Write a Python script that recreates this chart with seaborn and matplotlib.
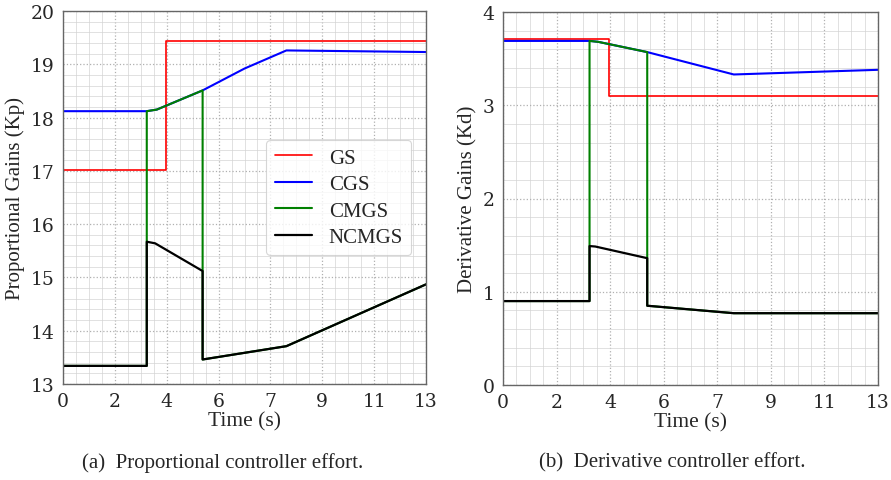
#!/usr/bin/env python
"""Gain-scheduling controller effort: proportional and derivative gains over time."""

import matplotlib

matplotlib.use("Agg")
import matplotlib.pyplot as plt  # noqa: E402
import numpy as np  # noqa: E402
import seaborn as sns  # noqa: E402
from matplotlib.ticker import AutoMinorLocator, FixedLocator, FuncFormatter, MultipleLocator  # noqa: E402

# --- proportional gains (Kp) ---
GS_T = [0, 3.68, 3.68, 13]
GS_KP = [17.02, 17.02, 19.43, 19.43]
CGS_T = [0, 3.0, 3.36, 5.0, 6.5, 8.0, 13]
CGS_KP = [18.12, 18.12, 18.15, 18.51, 18.92, 19.26, 19.23]
CMGS_T = [0, 3.0, 3.0, 3.36, 5.0, 5.0, 8.0, 13]
CMGS_KP = [13.34, 13.34, 18.12, 18.15, 18.51, 13.46, 13.71, 14.87]
NCMGS_T = [0, 3.0, 3.0, 3.3, 5.0, 5.0, 8.0, 13]
NCMGS_KP = [13.34, 13.34, 15.67, 15.64, 15.12, 13.46, 13.71, 14.87]

# --- derivative gains (Kd) ---
GS_KD = [3.71, 3.71, 3.10, 3.10]
CGS_KD_T = [0, 3.0, 3.3, 5.0, 8.0, 13]
CGS_KD = [3.69, 3.69, 3.68, 3.57, 3.33, 3.38]
CMGS_KD_T = [0, 3.0, 3.0, 3.3, 5.0, 5.0, 8.0, 13]
CMGS_KD = [0.90, 0.90, 3.69, 3.68, 3.57, 0.85, 0.77, 0.77]
NCMGS_KD_T = [0, 3.0, 3.0, 3.2, 5.0, 5.0, 8.0, 13]
NCMGS_KD = [0.90, 0.90, 1.49, 1.485, 1.36, 0.85, 0.77, 0.77]

LABELS = ["GS", "CGS", "CMGS", "NCMGS"]
COLORS = ["red", "blue", "green", "black"]
X_TICKS = np.linspace(0, 13, 8)

SERIF = ["Liberation Serif", "DejaVu Serif"]
TICK_FONT = "DejaVu Serif"


def style_axis(ax, ylim, ylabel):
    ax.set_xlim(0, 13)
    ax.set_ylim(*ylim)
    ax.xaxis.set_major_locator(FixedLocator(X_TICKS))
    ax.xaxis.set_major_formatter(FuncFormatter(lambda v, _: f"{v:.0f}"))
    ax.xaxis.set_minor_locator(AutoMinorLocator(4))
    ax.yaxis.set_major_locator(MultipleLocator(1))
    ax.yaxis.set_major_formatter(FuncFormatter(lambda v, _: f"{v:.0f}"))
    ax.yaxis.set_minor_locator(AutoMinorLocator(5))
    ax.grid(which="major", color="#b0b0b0", linestyle=":", linewidth=0.9)
    ax.grid(which="minor", color="#d4d4d4", linestyle="-", linewidth=0.5)
    ax.tick_params(which="major", direction="out", length=4, labelsize=13.5,
                   color="#555555", labelfontfamily=TICK_FONT, pad=2)
    ax.tick_params(which="minor", direction="out", length=2, color="#555555")
    for spine in ax.spines.values():
        spine.set_visible(True)
        spine.set_color("#666666")
        spine.set_linewidth(1.0)
    ax.set_xlabel("Time (s)", fontsize=15.5, family=SERIF, labelpad=1)
    ax.set_ylabel(ylabel, fontsize=15, family=SERIF, labelpad=4)


def main():
    sns.set_theme(style="white", context="paper")
    plt.rcParams["font.family"] = SERIF

    fig = plt.figure(figsize=(8.91, 4.81), dpi=100)
    ax_p = fig.add_axes([63 / 891, 1 - 385 / 481, 363 / 891, 373 / 481])
    ax_d = fig.add_axes([503 / 891, 1 - 386 / 481, 375 / 891, 373 / 481])

    kp_series = [
        (GS_T, GS_KP, 1.2),
        (CGS_T, CGS_KP, 1.5),
        (CMGS_T, CMGS_KP, 1.5),
        (NCMGS_T, NCMGS_KP, 1.6),
    ]
    kd_series = [
        (GS_T, GS_KD, 1.2),
        (CGS_KD_T, CGS_KD, 1.5),
        (CMGS_KD_T, CMGS_KD, 1.5),
        (NCMGS_KD_T, NCMGS_KD, 1.6),
    ]
    for ax, series in [(ax_p, kp_series), (ax_d, kd_series)]:
        for (t, vals, lw), label, color in zip(series, LABELS, COLORS):
            sns.lineplot(
                x=t, y=vals, ax=ax, color=color, linewidth=lw,
                estimator=None, sort=False, label=label if ax is ax_p else None,
            )

    style_axis(ax_p, (13, 20), "Proportional Gains (Kp)")
    style_axis(ax_d, (0, 4), "Derivative Gains (Kd)")

    if ax_d.get_legend() is not None:
        ax_d.get_legend().remove()
    ax_p.legend(
        loc="center right", prop={"family": SERIF, "size": 15},
        handlelength=1.8, borderaxespad=0.7, labelspacing=0.33,
    )

    fig.text(223 / 891, 1 - 463 / 481, "(a)  Proportional controller effort.",
             ha="center", va="center", fontsize=15, family=SERIF)
    fig.text(672 / 891, 1 - 463 / 481, "(b)  Derivative controller effort.",
             ha="center", va="center", fontsize=15, family=SERIF)

    fig.savefig("out.png", dpi=100)
    plt.close(fig)


if __name__ == "__main__":
    main()
